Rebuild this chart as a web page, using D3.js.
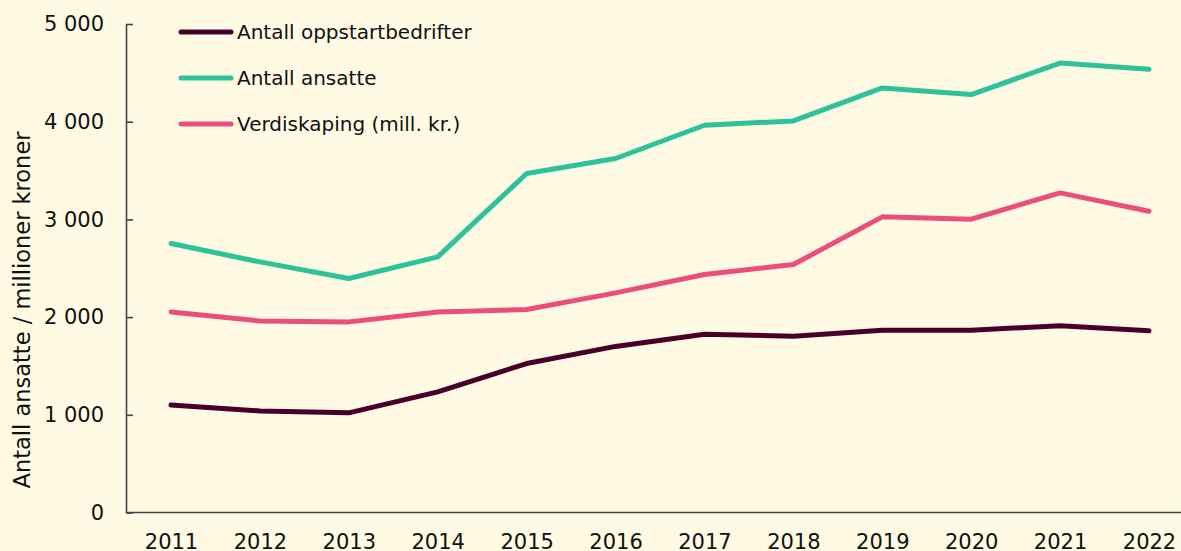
<!DOCTYPE html>
<html>
<head>
<meta charset="utf-8">
<script src="https://cdn.jsdelivr.net/npm/d3@7"></script>
<style>
  html, body { margin: 0; padding: 0; background: #fefae3; }
  svg { display: block; font-family: "DejaVu Sans", sans-serif; }
</style>
</head>
<body>
<div id="chart"></div>
<script>
const years = ["2011", "2012", "2013", "2014", "2015", "2016", "2017", "2018", "2019", "2020", "2021", "2022"];
const oppstart = [1100, 1040, 1020, 1235, 1525, 1700, 1825, 1805, 1866, 1866, 1912, 1860];
const ansatte = [2753, 2565, 2395, 2616, 3470, 3623, 3964, 4008, 4346, 4278, 4600, 4537];
const verdiskaping = [2053, 1960, 1951, 2053, 2078, 2248, 2436, 2538, 3026, 3002, 3271, 3084];
const yTicks = [0, 1000, 2000, 3000, 4000, 5000];

const series = [
    {name: "Antall oppstartbedrifter", values: oppstart, color: "#48002b"},
    {name: "Antall ansatte", values: ansatte, color: "#2dc29a"},
    {name: "Verdiskaping (mill. kr.)", values: verdiskaping, color: "#ec4e7b"}
];

const width = 1181, height = 551;
const margin = {top: 24, right: 0, bottom: 38.5, left: 126};

const svg = d3.select("#chart").append("svg")
    .attr("width", width)
    .attr("height", height);

const x = d3.scalePoint()
    .domain(years)
    .range([171, 1149]);

const y = d3.scaleLinear()
    .domain([0, 5000])
    .range([height - margin.bottom, margin.top]);

// y axis
const yAxis = svg.append("g")
    .attr("transform", "translate(" + margin.left + ",0)")
    .call(d3.axisLeft(y)
        .tickValues(yTicks)
        .tickSizeInner(-7)
        .tickSizeOuter(0)
        .tickPadding(22)
        .tickFormat(d => d3.format(",")(d).replace(",", " ")));
yAxis.select(".domain").attr("stroke", "#444").attr("stroke-width", 1.6);
yAxis.selectAll(".tick line").attr("stroke", "#444").attr("stroke-width", 1.6);
yAxis.selectAll(".tick text")
    .attr("font-size", 21)
    .attr("font-family", "DejaVu Sans")
    .attr("fill", "#111");

// x axis
const xAxis = svg.append("g")
    .attr("transform", "translate(0," + y(0) + ")")
    .call(d3.axisBottom(x).tickSize(0).tickPadding(22));
xAxis.select(".domain").remove();
xAxis.append("line")
    .attr("x1", margin.left)
    .attr("x2", width)
    .attr("stroke", "#444")
    .attr("stroke-width", 1.6);
xAxis.selectAll(".tick text")
    .attr("font-size", 21)
    .attr("font-family", "DejaVu Sans")
    .attr("fill", "#111");

// y title
svg.append("text")
    .attr("transform", "translate(30,310) rotate(-90)")
    .attr("text-anchor", "middle")
    .attr("font-size", 22.5)
    .attr("fill", "#111")
    .text("Antall ansatte / millioner kroner");

// lines
const line = d3.line()
    .x((d, i) => x(years[i]))
    .y(d => y(d));

svg.selectAll(".series")
    .data(series)
    .enter()
    .append("path")
    .attr("class", "series")
    .attr("d", d => line(d.values))
    .attr("fill", "none")
    .attr("stroke", d => d.color)
    .attr("stroke-width", 5)
    .attr("stroke-linejoin", "round")
    .attr("stroke-linecap", "round");

// legend
const legend = svg.append("g");
series.forEach(function (s, i) {
    const ly = 32 + i * 46;
    legend.append("line")
        .attr("x1", 181)
        .attr("x2", 231)
        .attr("y1", ly)
        .attr("y2", ly)
        .attr("stroke", s.color)
        .attr("stroke-width", 5)
        .attr("stroke-linecap", "round");
    legend.append("text")
        .attr("x", 237)
        .attr("y", ly + 7)
        .attr("font-size", 20)
        .attr("fill", "#111")
        .text(s.name);
});
</script>
</body>
</html>
